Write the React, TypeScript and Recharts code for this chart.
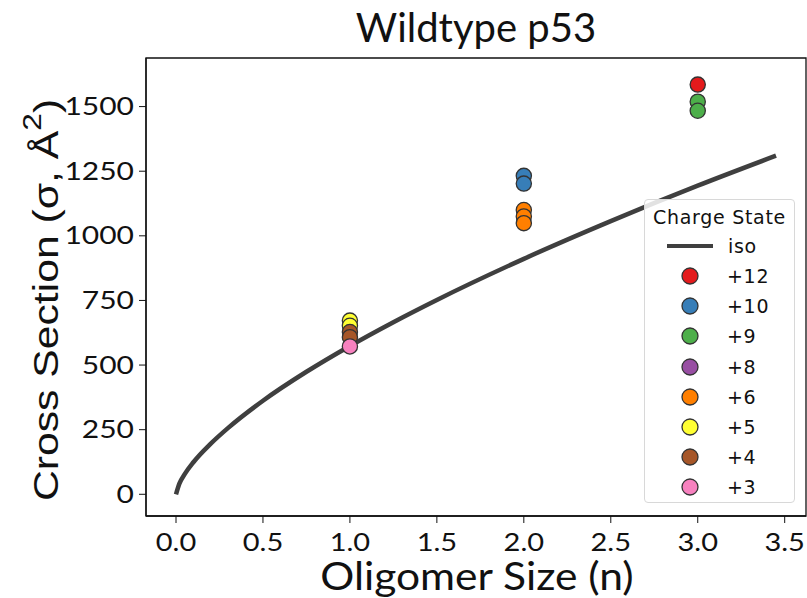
import { ComposedChart, Line, Scatter, XAxis, YAxis, ReferenceArea } from 'recharts';

// values
const isoX = [0, 0.02, 0.05, 0.1, 0.2, 0.3, 0.5, 0.75, 1, 1.25, 1.5, 2, 2.5, 3, 3.45];
const isoY = [0, 42, 78, 124, 196, 257, 362, 474, 574, 666, 752, 911, 1057, 1194, 1310];

const chargeStates = ['+12', '+10', '+9', '+8', '+6', '+5', '+4', '+3'];
const chargeColors = ['#e41a1c', '#377eb8', '#4daf4a', '#984ea3', '#ff7f00', '#ffff33', '#a65628', '#f781bf'];
const chargeN: number[][] = [[3], [2, 2], [3, 3], [], [2, 2, 2], [1, 1], [1, 1], [1]];
const chargeSigma: number[][] = [[1585], [1232, 1202], [1519, 1484], [], [1100, 1075, 1049], [672, 652], [628, 608], [572]];

const xTicks = [0, 0.5, 1, 1.5, 2, 2.5, 3, 3.5];
const yTicks = [0, 250, 500, 750, 1000, 1250, 1500];

const xDomain = [-0.1725, 3.6225];
const yDomain = [-84, 1688];

const isoData = isoX.map((x, i) => ({ x, y: isoY[i] }));
const seriesData = chargeStates.map((_, k) => chargeN[k].map((x, i) => ({ x, y: chargeSigma[k][i] })));

const tickStyle = { fontFamily: 'Lato', fontSize: 25, fill: '#111' };

const XTick = ({ x, y, payload }: any) => (
  <text
    transform={`translate(${x},${y + 26}) scale(1.16,1)`}
    textAnchor="middle"
    style={tickStyle}
  >
    {payload.value.toFixed(1)}
  </text>
);

const YTick = ({ x, y, payload }: any) => (
  <text
    transform={`translate(${x - 3},${y + 8.5}) scale(1.2,1)`}
    textAnchor="end"
    style={tickStyle}
  >
    {payload.value}
  </text>
);

const Dot = (color: string) => (props: any) => (
  <circle cx={props.cx} cy={props.cy} r={7.6} fill={color} stroke="#333" strokeWidth={1.3} />
);

const YLabel = () => {
  const cx = 46;
  const cy = 300;
  return (
    <text
      transform={`translate(${cx},${cy}) rotate(-90) scale(1.22,1)`}
      textAnchor="middle"
      dominantBaseline="central"
      style={{ fontFamily: 'Liberation Sans', fontSize: 35, fill: '#111' }}
    >
      Cross Section (σ, Å<tspan dy={-14} fontSize={26}>2</tspan><tspan dy={14}>)</tspan>
    </text>
  );
};

const XLabel = () => (
  <text
    transform="translate(477,590) scale(1.12,1)"
    textAnchor="middle"
    style={{ fontFamily: 'Lato', fontSize: 38, fill: '#111' }}
  >
    Oligomer Size (n)
  </text>
);

const LegendBox = () => (
  <div
    style={{
      position: 'absolute',
      left: 644,
      top: 199,
      border: '1px solid #d8d8d8',
      borderRadius: 4,
      background: 'rgba(255,255,255,0.85)',
      width: 151,
      height: 304,
      boxSizing: 'border-box',
      fontFamily: 'DejaVu Sans',
      fontSize: 19,
      letterSpacing: 0.7,
      color: '#111',
      paddingTop: 3,
    }}
  >
    <div style={{ textAlign: 'center', height: 28, lineHeight: '28px' }}>Charge State</div>
    <div style={{ display: 'flex', alignItems: 'center', height: 30 }}>
      <div style={{ width: 46, height: 4, background: '#3f3f3f', marginLeft: 22 }} />
      <span style={{ marginLeft: 15 }}>iso</span>
    </div>
    {chargeStates.map((c, i) => (
      <div key={c} style={{ display: 'flex', alignItems: 'center', height: 30.2 }}>
        <svg width={18} height={18} style={{ marginLeft: 36 }}>
          <circle cx={9} cy={9} r={8} fill={chargeColors[i]} stroke="#333" strokeWidth={1.3} />
        </svg>
        <span style={{ marginLeft: 28 }}>{c}</span>
      </div>
    ))}
  </div>
);

export default function App() {
  return (
    <div style={{ position: 'absolute', left: 0, top: 0, width: 807, height: 598, background: '#fff' }}>
      <div
        style={{
          position: 'absolute',
          left: 146,
          width: 660,
          top: 3,
          textAlign: 'center',
          fontFamily: 'Lato',
          fontSize: 40,
          color: '#111',
        }}
      >
        Wildtype p53
      </div>
      <ComposedChart width={807} height={598} margin={{ top: 58, right: 1, left: 0, bottom: 0 }}>
        <XAxis
          type="number"
          dataKey="x"
          domain={xDomain}
          ticks={xTicks}
          height={82}
          tick={<XTick />}
          tickSize={7}
          stroke="#111"
          axisLine={{ stroke: '#111', strokeWidth: 1.3 }}
          allowDataOverflow
          label={<XLabel />}
        />
        <YAxis
          type="number"
          dataKey="y"
          domain={yDomain}
          ticks={yTicks}
          width={146}
          tick={<YTick />}
          tickSize={7}
          stroke="#111"
          axisLine={{ stroke: '#111', strokeWidth: 1.3 }}
          allowDataOverflow
          label={<YLabel />}
        />
        <ReferenceArea
          x1={xDomain[0]}
          x2={xDomain[1]}
          y1={yDomain[0]}
          y2={yDomain[1]}
          fill="none"
          stroke="#111"
          strokeWidth={1.3}
        />
        <Line
          data={isoData}
          dataKey="y"
          type="monotone"
          dot={false}
          stroke="#3f3f3f"
          strokeWidth={4.5}
          isAnimationActive={false}
          legendType="none"
        />
        {chargeStates.map((c, k) => (
          <Scatter
            key={c}
            name={c}
            data={seriesData[k]}
            fill={chargeColors[k]}
            shape={Dot(chargeColors[k])}
            isAnimationActive={false}
          />
        ))}
      </ComposedChart>
      <LegendBox />
    </div>
  );
}
